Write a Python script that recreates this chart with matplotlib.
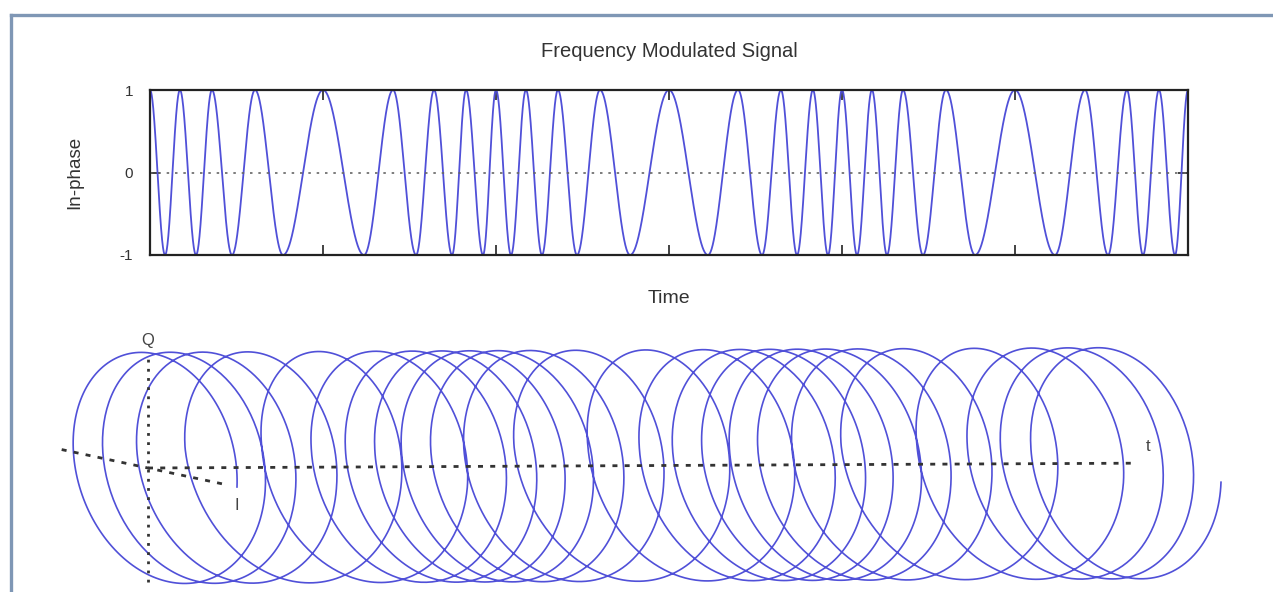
import numpy as np
import matplotlib
matplotlib.use("Agg")
import matplotlib.pyplot as plt
from matplotlib.lines import Line2D

# times (in carrier units) where the carrier reaches +1 and -1
peak_times = [0.0, 0.173, 0.358, 0.607, 1.0, 1.405, 1.642, 1.827, 2.0,
              2.173, 2.358, 2.601, 3.0, 3.399, 3.647, 3.832, 4.0,
              4.173, 4.353, 4.601, 5.0, 5.405, 5.647, 5.832, 6.0]
trough_times = [0.087, 0.266, 0.474, 0.769, 1.237, 1.538, 1.746, 1.925,
                2.087, 2.266, 2.468, 2.775, 3.225, 3.538, 3.740, 3.919,
                4.087, 4.260, 4.468, 4.769, 5.231, 5.538, 5.740, 5.925]
time_ticks = [1, 2, 3, 4, 5]
y_ticks = [-1, 0, 1]

blue = "#5050d8"
text_col = "#333333"
plt.rcParams["font.family"] = ["Liberation Sans", "DejaVu Sans"]

# phase is k*pi at each extremum, linear between them
knots = np.sort(np.array(peak_times + trough_times))
knot_phase = np.arange(len(knots)) * np.pi
t = np.linspace(knots[0], knots[-1], 6000)
phase = np.interp(t, knots, knot_phase)
inphase = np.cos(phase)
quad = np.sin(phase)

fig = plt.figure(figsize=(12.73, 5.92), dpi=100)

# background canvas in pixel units, for the frame and the helix
bg = fig.add_axes([0, 0, 1, 1])
bg.set_xlim(0, 1273)
bg.set_ylim(592, 0)
bg.axis("off")
frame_col = "#7f97b5"
bg.add_line(Line2D([10.5, 1273], [14.5, 14.5], color=frame_col, lw=2.4))
bg.add_line(Line2D([10.5, 10.5], [14.5, 592], color=frame_col, lw=2.4))

# top: the FM waveform
ax = fig.add_axes([150 / 1273, 1 - 255 / 592, 1038 / 1273, 165 / 592])
ax.plot(t, inphase, color=blue, lw=1.3)
ax.axhline(0, color="#666666", lw=1.2, ls=(0, (1.5, 3.5)))
ax.set_xlim(0, 6)
ax.set_ylim(-1, 1)
ax.set_xticks(time_ticks)
ax.set_xticklabels([])
ax.set_yticks(y_ticks)
ax.set_yticklabels([str(v) for v in y_ticks], fontsize=11, color=text_col)
ax.tick_params(direction="in", length=7, width=1.2, top=True, right=True,
               color="#222222", pad=12)
for sp in ax.spines.values():
    sp.set_linewidth(1.6)
    sp.set_color("#222222")
ax.set_title("Frequency Modulated Signal", fontsize=14.5, color=text_col,
             y=1.18, va="center")
ax.set_xlabel("Time", fontsize=14, color=text_col)
ax.xaxis.set_label_coords(0.5, -0.215)
ax.set_ylabel("In-phase", fontsize=13.5, color=text_col)
ax.yaxis.set_label_coords(-0.064, 0.5)

# bottom: the same signal drawn as a helix in (t, I, Q), oblique view
origin = np.array([148.0, 468.0])
t_vec = np.array([164.0, -0.8])    # one time unit
i_vec = np.array([89.0, 19.0])     # I = +1
q_vec = np.array([0.0, -114.0])    # Q = +1


def project(tt, ii, qq):
    tt, ii, qq = np.broadcast_arrays(np.atleast_1d(tt), np.atleast_1d(ii),
                                     np.atleast_1d(qq))
    p = (origin[:, None] + np.outer(t_vec, tt) + np.outer(i_vec, ii)
         + np.outer(q_vec, qq))
    return p[0], p[1]


hx, hy = project(t, inphase, quad)
bg.plot(hx, hy, color=blue, lw=1.2)

axis_col = "#333333"
qx, qy = project([0, 0], [0, 0], [-1.0, 0.99])
bg.plot(qx, qy, color=axis_col, lw=2.0, ls=(0, (1, 2.3)))
ix, iy = project([0, 0], [-0.97, 0.9], [0, 0])
bg.plot(ix, iy, color=axis_col, lw=2.0, ls=(0, (1.8, 2.6)))
tx, ty = project([0, 6.0], [0, 0], [0, 0])
bg.plot(tx, ty, color=axis_col, lw=2.0, ls=(0, (1.8, 2.6)))

for (lt, li, lq), name in [((0, 0, 1.12), "Q"), ((0, 1.0, -0.16), "I"),
                           ((6.1, 0, 0.15), "t")]:
    lx, ly = project(lt, li, lq)
    bg.text(lx[0], ly[0], name, ha="center", va="center", fontsize=12,
            color="#444444")

fig.savefig("out.png", dpi=100)
